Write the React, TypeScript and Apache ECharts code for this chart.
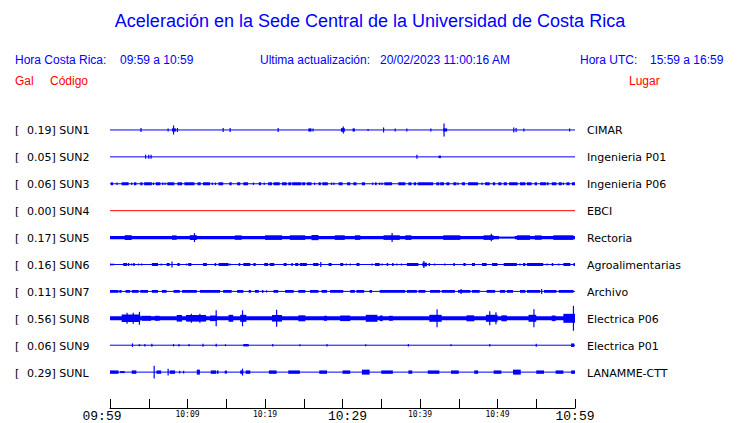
import React, { useEffect, useRef } from "react";
import * as echarts from "echarts";

// ---------- texts ----------
const chartTitle = "Aceleración en la Sede Central de la Universidad de Costa Rica";
const headerLeftLabel = "Hora Costa Rica:";
const headerLeftValue = "09:59 a 10:59";
const headerMidLabel = "Ultima actualización:";
const headerMidValue = "20/02/2023 11:00:16 AM";
const headerRightLabel = "Hora UTC:";
const headerRightValue = "15:59 a 16:59";
const columnHeaders = ["Gal", "Código", "Lugar"];

// ---------- stations ----------
const stationCodes = ["SUN1", "SUN2", "SUN3", "SUN4", "SUN5", "SUN6", "SUN7", "SUN8", "SUN9", "SUNL"];
const stationPlaces = [
  "CIMAR", "Ingenieria P01", "Ingenieria P06", "EBCI", "Rectoria",
  "Agroalimentarias", "Archivo", "Electrica P06", "Electrica P01", "LANAMME-CTT",
];
const peakGal = [0.19, 0.05, 0.06, 0.0, 0.17, 0.16, 0.11, 0.56, 0.06, 0.29];
const stationColors = ["#0000ff", "#0000ff", "#0000ff", "#ff0000", "#0000ff", "#0000ff", "#0000ff", "#0000ff", "#0000ff", "#0000ff"];

// ---------- time axis (minutes after 09:59) ----------
const timeStart = 0;
const timeEnd = 60;
const timeTickStep = 5;
const timeTickLabels = ["09:59", "", "10:09", "", "10:19", "", "10:29", "", "10:39", "", "10:49", "", "10:59"];
const majorTickLabels = ["09:59", "10:29", "10:59"];

// ---------- trace envelopes: [start minute, end minute, half amplitude] ----------
const sun1Bursts = [
  [4.0, 4.0, 2], [7.5, 7.5, 1.5], [8.0, 8.5, 1.6], [8.2, 8.2, 4.5], [8.7, 8.7, 2], [14.6, 14.6, 2],
  [15.5, 15.5, 2], [21.7, 21.7, 2], [25.6, 26.0, 1.6], [26.2, 26.2, 1.5], [29.8, 30.3, 1.8], [30.1, 30.1, 3.5],
  [31.3, 31.6, 1.6], [33.3, 33.3, 1], [35.3, 35.3, 2.5], [36.8, 36.8, 1.5], [38.3, 38.3, 1.5], [41.4, 41.4, 1.5],
  [43.0, 43.5, 1.6], [43.1, 43.1, 6.5], [52.1, 52.1, 2.5], [52.4, 52.4, 2], [53.4, 53.4, 1.5], [59.3, 59.3, 1.5],
];
const sun2Bursts = [
  [4.6, 4.6, 2], [5.0, 5.0, 2], [5.3, 5.3, 2], [39.6, 39.6, 2], [42.4, 42.7, 1.3],
];
const sun3Bursts = [
  [0.1, 0.4, 1.5], [0.9, 0.9, 1.2], [1.5, 2.4, 1.5], [2.8, 2.8, 1.2], [3.1, 3.4, 1.5], [3.9, 4.2, 1.5],
  [4.4, 5.4, 1.5], [5.6, 5.6, 1.2], [5.9, 6.5, 1.5], [6.8, 6.8, 1.2], [7.1, 7.1, 1.2], [7.4, 8.3, 1.5],
  [8.7, 9.3, 1.5], [9.6, 10.9, 1.5], [11.3, 11.7, 1.5], [12.0, 12.9, 1.5], [13.2, 13.2, 1.2], [13.6, 13.6, 1.2],
  [14.0, 14.6, 1.5], [15.4, 15.7, 1.5], [16.4, 16.8, 1.5], [17.2, 17.8, 1.5], [18.5, 18.5, 1.2], [19.2, 19.5, 1.5],
  [19.9, 19.9, 1.2], [20.4, 20.9, 1.5], [21.1, 21.9, 1.5], [22.2, 22.8, 1.5], [23.0, 23.4, 1.5], [23.5, 24.7, 1.5],
  [24.8, 25.2, 1.5], [25.4, 26.0, 1.5], [26.4, 26.4, 1.2], [26.9, 27.2, 1.5], [27.4, 28.1, 1.5], [28.6, 28.6, 1.2],
  [28.9, 28.9, 1.2], [29.5, 30.0, 1.5], [30.6, 31.0, 1.5], [31.4, 31.8, 1.5], [32.5, 32.9, 1.5], [33.9, 33.9, 1.2],
  [34.2, 34.4, 1.5], [34.8, 34.8, 1.2], [35.1, 35.1, 1.2], [35.4, 36.4, 1.5], [37.2, 38.1, 1.5], [38.5, 38.9, 1.5],
  [39.2, 39.5, 1.5], [39.7, 41.7, 1.5], [42.1, 42.5, 1.5], [42.6, 43.1, 1.5], [43.4, 43.8, 1.5], [44.3, 44.7, 1.5],
  [44.9, 44.9, 1.2], [45.4, 45.8, 1.5], [46.2, 47.5, 1.5], [48.0, 48.0, 1.2], [48.4, 49.0, 1.5], [49.4, 49.7, 1.5],
  [50.1, 50.5, 1.5], [50.8, 51.2, 1.5], [51.5, 52.6, 1.5], [52.9, 53.6, 1.5], [53.8, 54.4, 1.5], [54.8, 55.1, 1.5],
  [55.5, 56.3, 1.5], [56.4, 56.6, 1.5], [57.0, 57.6, 1.5], [57.9, 58.3, 1.5], [58.5, 58.5, 1.2], [58.9, 59.3, 1.5],
  [59.6, 60.0, 1.5],
];
const sun4Bursts: number[][] = [];
const sun5Bursts = [
  [0.0, 50.2, 1.6], [50.2, 52.2, 1.0], [52.2, 60.0, 1.6],
  [1.9, 2.8, 2.4], [8.0, 8.6, 2.2], [10.3, 11.2, 2.4], [10.9, 10.9, 4.5], [16.1, 17.0, 2.2], [20.0, 22.2, 2.3],
  [23.2, 25.2, 2.3], [26.0, 26.9, 2.6], [29.0, 30.3, 2.3], [31.6, 32.3, 2.3], [35.3, 37.4, 2.3], [36.4, 36.4, 4.5],
  [38.1, 38.9, 2.3], [43.0, 45.2, 2.3], [48.2, 49.5, 2.3], [49.2, 49.2, 3.8], [52.5, 54.2, 2.3], [54.8, 55.7, 2.2],
  [57.2, 59.8, 2.3],
];
const sun6Bursts = [
  [0.0, 0.2, 1.1], [0.4, 0.4, 1.1], [1.7, 2.2, 1.5], [2.3, 2.5, 1.5], [2.8, 2.8, 1.1], [3.0, 3.2, 1.5],
  [3.7, 3.7, 1.1], [4.1, 4.1, 1.1], [5.4, 6.2, 1.5], [6.6, 6.6, 1.1], [7.3, 7.7, 1.5], [8.0, 8.0, 3],
  [8.7, 9.0, 1.5], [9.9, 9.9, 1.1], [10.1, 10.5, 1.5], [12.0, 12.5, 1.5], [13.5, 13.7, 1.5], [14.0, 15.3, 1.5],
  [15.5, 15.5, 1.1], [16.6, 16.8, 1.5], [17.2, 18.1, 1.5], [18.5, 18.8, 1.5], [19.9, 20.4, 1.5], [20.6, 21.2, 1.5],
  [22.4, 22.8, 1.5], [23.4, 23.6, 1.5], [23.9, 24.3, 1.5], [24.5, 25.4, 1.5], [26.2, 26.9, 1.5], [27.2, 27.2, 2.5],
  [28.2, 28.6, 1.5], [29.7, 30.1, 1.5], [30.5, 30.5, 1.1], [31.0, 31.0, 1.1], [31.8, 32.2, 1.5], [33.8, 33.8, 1.1],
  [34.2, 34.8, 1.5], [35.1, 35.1, 1.1], [35.7, 35.9, 1.5], [36.4, 36.6, 1.5], [37.0, 37.0, 1.1], [37.6, 37.6, 1.1],
  [38.3, 39.8, 1.5], [40.3, 40.9, 1.8], [40.5, 40.5, 3.5], [41.1, 41.3, 1.5], [41.9, 41.9, 1.1], [43.2, 43.2, 1.1],
  [44.3, 44.5, 1.5], [45.6, 45.9, 1.5], [46.7, 47.1, 1.5], [48.0, 48.6, 1.5], [49.3, 50.0, 1.5], [50.8, 52.5, 1.5],
  [52.9, 52.9, 1.1], [53.3, 53.6, 1.5], [53.8, 55.9, 1.5], [56.4, 56.4, 1.1], [57.0, 57.2, 1.5], [57.9, 57.9, 1.1],
  [58.5, 59.4, 1.5], [59.8, 60.0, 1.5],
];
const sun7Bursts = [
  [0.0, 1.1, 1.4], [1.2, 1.5, 1.4], [2.0, 2.6, 1.4], [2.8, 3.7, 1.4], [3.9, 4.9, 1.4], [5.4, 6.2, 1.4],
  [6.7, 7.3, 1.4], [8.2, 9.0, 1.4], [9.3, 11.2, 1.4], [11.6, 14.2, 1.4], [14.6, 15.7, 1.4], [16.4, 17.2, 1.4],
  [17.9, 18.2, 1.4], [18.7, 19.2, 1.4], [19.6, 19.8, 1.4], [20.2, 20.2, 1.1], [21.1, 21.7, 1.4], [22.6, 23.7, 1.4],
  [24.3, 25.2, 1.4], [25.8, 26.9, 1.4], [27.3, 28.0, 1.4], [28.4, 30.1, 1.4], [31.0, 31.6, 1.4], [31.8, 32.8, 1.4],
  [33.5, 33.8, 1.4], [34.8, 38.1, 1.4], [38.3, 39.6, 1.4], [39.8, 40.7, 1.4], [41.3, 42.6, 1.4], [42.8, 44.5, 1.4],
  [44.9, 46.5, 1.4], [45.3, 45.3, 2.5], [46.7, 47.7, 1.4], [48.6, 49.7, 1.4], [50.3, 51.0, 1.4], [51.2, 52.0, 1.4],
  [52.9, 53.6, 1.4], [53.8, 55.5, 1.4], [55.7, 55.7, 2.5], [56.0, 57.6, 1.4], [57.9, 59.8, 1.4],
];
const sun8Bursts = [
  [0.0, 60.0, 2.0],
  [1.5, 3.9, 3.8], [2.2, 2.2, 5.5], [3.0, 3.0, 5.5], [3.8, 3.8, 6.5], [4.1, 5.3, 2.5], [5.8, 6.4, 2.5],
  [8.6, 9.3, 3.3], [9.8, 12.4, 3.3], [10.5, 10.5, 4.5], [11.6, 11.6, 4.5], [12.9, 13.8, 2.8], [13.7, 13.7, 8],
  [15.3, 15.9, 3.5], [16.8, 17.6, 3.5], [17.1, 17.1, 8], [20.9, 22.2, 3.3], [21.5, 21.5, 8.5], [24.3, 25.2, 3.0],
  [27.6, 28.0, 2.5], [29.7, 31.0, 2.8], [33.0, 34.5, 3.5], [34.8, 35.2, 2.8], [36.0, 36.5, 2.5], [41.2, 42.8, 3.5],
  [42.2, 42.2, 9], [46.0, 47.0, 3.0], [48.5, 50.0, 3.5], [49.0, 49.0, 7], [49.8, 49.8, 6], [50.5, 51.2, 3.0],
  [54.0, 55.0, 3.5], [54.7, 54.7, 9], [57.0, 57.5, 2.8], [58.5, 60.0, 4.5], [59.8, 59.8, 12.5],
];
const sun9Bursts = [
  [2.9, 2.9, 1.8], [3.7, 3.9, 1], [4.5, 4.5, 1.2], [5.4, 5.4, 1.5], [8.2, 8.2, 1.2], [8.9, 8.9, 1.2],
  [10.1, 10.3, 1], [12.0, 12.0, 1.5], [13.7, 13.7, 1.5], [14.9, 14.9, 1], [17.2, 17.9, 1.2], [21.0, 21.0, 1.2],
  [24.5, 24.5, 1], [28.0, 28.0, 1.2], [33.0, 33.0, 1], [38.5, 38.5, 1.2], [44.0, 44.0, 1], [49.0, 49.0, 1.2],
  [55.0, 55.0, 1.5], [59.5, 59.9, 1.8],
];
const sunlBursts = [
  [0.0, 1.1, 1.7], [1.3, 1.9, 1], [2.8, 3.4, 1.7], [5.7, 5.7, 6.5], [6.0, 6.6, 1.7], [7.5, 7.5, 3.5],
  [7.7, 8.4, 1.7], [9.0, 9.0, 1.5], [9.5, 9.5, 1.5], [11.2, 11.6, 2.5], [13.0, 13.7, 1.7], [13.8, 14.0, 1.7],
  [14.8, 15.1, 1.5], [16.8, 17.2, 1.7], [17.1, 17.1, 3.5], [17.5, 18.1, 1.7], [20.5, 21.5, 1.7], [23.0, 24.5, 1.7],
  [27.0, 28.0, 1.7], [30.0, 31.0, 1.7], [32.5, 33.5, 2.5], [35.0, 36.5, 1.7], [38.5, 39.0, 1.7], [41.0, 42.5, 1.7],
  [44.0, 45.0, 1.7], [47.0, 47.5, 1.7], [49.5, 50.5, 1.7], [52.0, 53.0, 2.5], [55.0, 56.0, 1.7], [57.5, 58.5, 1.7],
  [59.5, 60.0, 1.7],
];
const stationBursts = [
  sun1Bursts, sun2Bursts, sun3Bursts, sun4Bursts, sun5Bursts,
  sun6Bursts, sun7Bursts, sun8Bursts, sun9Bursts, sunlBursts,
];

// ---------- layout ----------
const W = 740;
const H = 423;
const GRID_LEFT = 110;
const GRID_WIDTH = 465;
const GRID_TOP = 116.5;
const GRID_HEIGHT = 292.5;
const ROW = 27; // trace spacing in amplitude units (1 unit = 1 px)
const Y_MIN = -ROW / 2;
const Y_MAX = Y_MIN + GRID_HEIGHT;

const SANS = "'Liberation Sans', Arial, sans-serif";
const DEJAVU = "'DejaVu Sans', sans-serif";
const MONO = "'Liberation Mono', monospace";
const MONO_SMALL = "'DejaVu Sans Mono', monospace";
const BLUE = "#0000ff";
const RED = "#ff0000";

export default function App() {
  const ref = useRef<HTMLDivElement>(null);

  useEffect(() => {
    if (!ref.current) return;
    const chart = echarts.init(ref.current, null, { renderer: "svg" });

    const rowY = (i: number) => GRID_TOP + (i * ROW - Y_MIN);

    const series: any[] = [];
    stationCodes.forEach((code, i) => {
      const offset = i * ROW;
      const color = stationColors[i];
      series.push({
        type: "line",
        name: code + "-base",
        data: [[timeStart, offset], [timeEnd, offset]],
        symbol: "none",
        silent: true,
        lineStyle: { color, width: 1 },
        z: 2,
      });
      series.push({
        type: "custom",
        name: code,
        silent: true,
        z: 3,
        data: stationBursts[i],
        renderItem: (_params: any, api: any) => {
          const t0 = api.value(0);
          const t1 = api.value(1);
          const amp = api.value(2);
          const pTop = api.coord([t0, offset - amp]);
          const pBot = api.coord([t1, offset + amp]);
          let x = pTop[0];
          let w = pBot[0] - pTop[0];
          if (w < 1.2) {
            x = x - 0.6;
            w = 1.2;
          }
          return {
            type: "rect",
            shape: { x, y: pTop[1], width: w, height: pBot[1] - pTop[1] },
            style: { fill: color },
          };
        },
      });
    });

    const graphic: any[] = [
      {
        type: "text", left: "center", top: 12,
        style: { text: chartTitle, font: `18px ${SANS}`, fill: BLUE },
      },
      { type: "text", x: 15, y: 60, style: { text: headerLeftLabel, font: `12px ${SANS}`, fill: BLUE, textVerticalAlign: "middle" } },
      { type: "text", x: 120, y: 60, style: { text: headerLeftValue, font: `12px ${SANS}`, fill: BLUE, textVerticalAlign: "middle" } },
      { type: "text", x: 260, y: 60, style: { text: headerMidLabel, font: `12px ${SANS}`, fill: BLUE, textVerticalAlign: "middle" } },
      { type: "text", x: 380, y: 60, style: { text: headerMidValue, font: `12px ${SANS}`, fill: BLUE, textVerticalAlign: "middle" } },
      { type: "text", x: 580, y: 60, style: { text: headerRightLabel, font: `12px ${SANS}`, fill: BLUE, textVerticalAlign: "middle" } },
      { type: "text", x: 650, y: 60, style: { text: headerRightValue, font: `12px ${SANS}`, fill: BLUE, textVerticalAlign: "middle" } },
      { type: "text", x: 15, y: 81, style: { text: columnHeaders[0], font: `12px ${SANS}`, fill: RED, textVerticalAlign: "middle" } },
      { type: "text", x: 50, y: 81, style: { text: columnHeaders[1], font: `12px ${SANS}`, fill: RED, textVerticalAlign: "middle" } },
      { type: "text", x: 629, y: 81, style: { text: columnHeaders[2], font: `12px ${SANS}`, fill: RED, textVerticalAlign: "middle" } },
    ];
    stationCodes.forEach((code, i) => {
      const y = rowY(i);
      graphic.push({ type: "text", x: 15, y, style: { text: "[", font: `11px ${DEJAVU}`, fill: "#000", textVerticalAlign: "middle" } });
      graphic.push({
        type: "text", x: 27, y,
        style: { text: `${peakGal[i].toFixed(2)}] ${code}`, font: `11px ${DEJAVU}`, fill: "#000", textVerticalAlign: "middle" },
      });
      graphic.push({
        type: "text", x: 587, y,
        style: { text: stationPlaces[i], font: `11px ${DEJAVU}`, fill: "#000", textVerticalAlign: "middle" },
      });
    });

    chart.setOption({
      animation: false,
      backgroundColor: "#ffffff",
      grid: { left: GRID_LEFT, top: GRID_TOP, width: GRID_WIDTH, height: GRID_HEIGHT, containLabel: false },
      xAxis: {
        type: "value",
        min: timeStart,
        max: timeEnd,
        interval: timeTickStep,
        axisLine: { show: true, onZero: false, lineStyle: { color: "#000", width: 1 } },
        axisTick: { show: true, inside: true, length: 9, lineStyle: { color: "#000", width: 1 } },
        splitLine: { show: false },
        axisLabel: {
          margin: 2,
          showMinLabel: true,
          showMaxLabel: true,
          hideOverlap: false,
          formatter: (v: number) => {
            const lbl = timeTickLabels[Math.round((v - timeStart) / timeTickStep)];
            if (!lbl) return "";
            if (lbl === majorTickLabels[0]) return `{bigL|${lbl}}`;
            if (lbl === majorTickLabels[1]) return `{bigR|${lbl}}`;
            if (lbl === majorTickLabels[2]) return `{big|${lbl}}`;
            return `{small|${lbl}}`;
          },
          rich: {
            big: { fontFamily: MONO, fontSize: 13, lineHeight: 13, color: "#000", fontWeight: "normal" },
            bigL: { fontFamily: MONO, fontSize: 13, lineHeight: 13, color: "#000", fontWeight: "normal", padding: [0, 16, 0, 0] },
            bigR: { fontFamily: MONO, fontSize: 13, lineHeight: 13, color: "#000", fontWeight: "normal", padding: [0, 0, 0, 10] },
            small: { fontFamily: MONO_SMALL, fontSize: 8, lineHeight: 8, color: "#000", fontWeight: "normal" },
          },
        },
      },
      yAxis: {
        type: "value",
        min: Y_MIN,
        max: Y_MAX,
        inverse: true,
        show: false,
        splitLine: { show: false },
      },
      graphic,
      series,
    });

    return () => chart.dispose();
  }, []);

  return (
    <div
      ref={ref}
      style={{ position: "absolute", left: 0, top: 0, width: W, height: H, background: "#fff" }}
    />
  );
}
